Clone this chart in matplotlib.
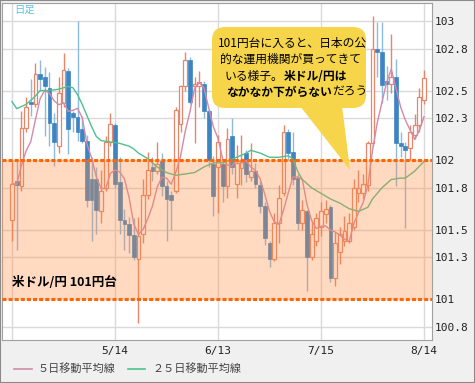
import matplotlib
matplotlib.use("Agg")
import matplotlib.pyplot as plt
from matplotlib.patches import FancyBboxPatch, Polygon, Rectangle
from matplotlib.lines import Line2D
from matplotlib.text import Annotation
import numpy as np
import pandas as pd

# daily USD/JPY candles, 2014-04-14 .. 2014-08-14
dates = pd.bdate_range("2014-04-14", "2014-08-14")
opens = [101.57, 101.85, 101.81, 102.23, 102.42, 102.40, 102.62, 102.60, 102.52, 102.27,
         102.10, 102.41, 102.64, 102.34, 102.31, 102.22, 102.14, 101.86, 101.86, 101.63,
         101.80, 102.13, 102.25, 101.84, 101.57, 101.54, 101.46, 101.29, 101.47, 101.75,
         101.95, 101.92, 101.99, 101.81, 101.75, 101.78, 102.26, 102.53, 102.72, 102.53,
         102.53, 102.55, 102.35, 101.97, 101.95, 101.97, 101.81, 102.17, 101.83, 101.94,
         102.05, 101.88, 101.92, 101.82, 101.67, 101.40, 101.29, 101.55, 101.76, 102.20,
         102.06, 101.87, 101.55, 101.63, 101.30, 101.42, 101.52, 101.61, 101.66, 101.15,
         101.34, 101.42, 101.42, 101.52, 101.76, 101.76, 101.82, 102.12, 102.80, 102.78,
         102.57, 102.55, 102.60, 102.12, 102.10, 102.09, 102.18, 102.25, 102.43]
highs = [102.00, 102.00, 102.35, 102.45, 102.58, 102.70, 102.72, 102.67, 102.63, 102.34,
         102.60, 102.77, 102.66, 102.35, 103.00, 102.32, 102.18, 102.02, 101.95, 101.93,
         102.17, 102.34, 102.27, 102.02, 101.65, 101.59, 101.58, 101.59, 101.86, 102.06,
         102.02, 102.13, 102.05, 101.85, 101.78, 102.38, 102.54, 102.78, 102.74, 102.60,
         102.64, 102.57, 102.37, 102.03, 102.18, 101.99, 102.23, 102.30, 102.11, 102.18,
         102.07, 102.12, 101.98, 101.85, 101.70, 101.42, 101.62, 101.82, 102.25, 102.22,
         102.20, 101.90, 101.71, 101.64, 101.57, 101.62, 101.70, 101.71, 101.68, 101.48,
         101.52, 101.60, 101.62, 101.86, 101.93, 101.90, 102.14, 103.04, 102.99, 102.99,
         102.68, 102.91, 102.73, 102.20, 102.13, 102.25, 102.33, 102.52, 102.65]
lows = [101.42, 101.35, 101.78, 102.20, 102.32, 102.38, 102.50, 102.17, 102.10, 101.96,
        102.05, 102.38, 102.04, 102.20, 102.14, 102.12, 101.66, 101.42, 101.47, 101.55,
        101.78, 102.10, 101.80, 101.47, 101.35, 101.33, 101.28, 100.83, 101.40, 101.72,
        101.85, 101.90, 101.74, 101.42, 101.50, 101.76, 102.20, 102.50, 102.40, 102.12,
        102.38, 102.30, 101.95, 101.60, 101.62, 101.70, 101.73, 101.90, 101.73, 101.82,
        101.84, 101.85, 101.80, 101.62, 101.39, 101.23, 101.27, 101.40, 101.74, 102.00,
        101.82, 101.50, 101.50, 101.06, 101.28, 101.38, 101.45, 101.55, 101.12, 101.09,
        101.25, 101.38, 101.40, 101.50, 101.70, 101.72, 101.78, 102.10, 102.60, 102.41,
        102.43, 102.48, 101.81, 102.02, 101.51, 102.00, 102.15, 102.20, 102.40]
closes = [101.83, 101.82, 102.23, 102.38, 102.40, 102.62, 102.58, 102.53, 102.27, 102.13,
          102.48, 102.65, 102.22, 102.31, 102.20, 102.14, 101.71, 101.71, 101.64, 101.78,
          102.13, 102.26, 101.83, 101.57, 101.54, 101.46, 101.30, 101.45, 101.75, 101.93,
          101.92, 101.97, 101.81, 101.72, 101.71, 102.36, 102.53, 102.72, 102.42, 102.55,
          102.56, 102.35, 102.00, 101.74, 102.13, 101.81, 102.15, 101.95, 101.98, 102.00,
          101.90, 101.92, 101.83, 101.67, 101.44, 101.29, 101.55, 101.73, 102.20, 102.05,
          101.86, 101.55, 101.64, 101.30, 101.47, 101.58, 101.63, 101.65, 101.15, 101.40,
          101.47, 101.49, 101.55, 101.80, 101.80, 101.83, 102.12, 102.80, 102.78, 102.54,
          102.55, 102.60, 102.12, 102.10, 102.07, 102.20, 102.25, 102.45, 102.59]

# 25-day moving average (candle index, value)
ma25_idx = [0, 1, 3, 5, 6, 8, 10, 12, 13, 14, 15, 16, 17, 18, 19, 21, 23, 25, 26, 27,
            29, 31, 33, 35, 37, 39, 41, 43, 45, 48, 50, 51, 53, 55, 57, 59, 60, 61, 62,
            64, 66, 68, 70, 72, 74, 76, 77, 79, 81, 83, 84, 86, 88]
ma25_val = [102.42, 102.37, 102.40, 102.46, 102.50, 102.50, 102.51, 102.53, 102.52, 102.47,
            102.40, 102.32, 102.24, 102.17, 102.14, 102.13, 102.12, 102.10, 102.08, 102.05,
            102.01, 101.95, 101.91, 101.89, 101.90, 101.91, 101.95, 101.98, 101.98, 102.02,
            102.05, 102.07, 102.05, 102.02, 102.02, 102.03, 102.01, 101.92, 101.86, 101.80,
            101.76, 101.72, 101.69, 101.65, 101.63, 101.66, 101.72, 101.80, 101.86, 101.87,
            101.87, 101.92, 101.99]

tick_dates = ["2014-04-14", "2014-05-14", "2014-06-13", "2014-07-15", "2014-08-14"]
tick_labels = ["", "5/14", "6/13", "7/15", "8/14"]
y_ticks = [100.8, 101, 101.3, 101.5, 101.8, 102, 102.3, 102.5, 102.8, 103]
band = (101, 102)

jp = ['Noto Sans CJK JP', 'DejaVu Sans']

fig = plt.figure(figsize=(4.75, 3.83), dpi=100, facecolor='#f0f0f0')
ax = fig.add_axes([2/475, 43/383, 430/475, 337/383])
ax.set_facecolor('white')

x = np.arange(len(dates))
o = np.array(opens); c = np.array(closes)
up = c >= o

# candles
ax.vlines(x[up], np.array(lows)[up], np.array(highs)[up], color='#e8866c', lw=1, zorder=2)
ax.vlines(x[~up], np.array(lows)[~up], np.array(highs)[~up], color='#8dbbe0', lw=1, zorder=2)
ax.bar(x[up], (c - o)[up], bottom=o[up], width=0.8, facecolor='white',
       edgecolor='#e8866c', linewidth=0.9, zorder=3)
ax.bar(x[~up], (o - c)[~up], bottom=c[~up], width=0.8, facecolor='#3d84c2',
       edgecolor='#3d84c2', linewidth=0.5, zorder=3)

# moving averages
ma5 = pd.Series(closes).rolling(5, min_periods=1).mean()
ax.plot(x, ma5, color='#d48aa8', lw=1, zorder=4)
ax.plot(ma25_idx, ma25_val, color='#4fc08d', lw=1, zorder=4)

# 101-yen band
ax.axhspan(band[0], band[1], facecolor='#ff8c40', alpha=0.33, lw=0, zorder=5)
for yv in band:
    ax.axhline(yv, color='#ff6600', lw=2.2, linestyle=(0, (1.3, 0.7)), zorder=6)

tick_pos = dates.get_indexer(pd.to_datetime(tick_dates))
ax.set_xticks(tick_pos)
ax.set_xticklabels(tick_labels)
ax.set_yticks(y_ticks)
ax.set_yticklabels([f"{v:g}" for v in y_ticks])
ax.yaxis.tick_right()
ax.tick_params(length=0, labelsize=8, labelcolor='#222222')
ax.tick_params(axis='y', pad=2)
ax.tick_params(axis='x', pad=4)
for lab in ax.get_xticklabels() + ax.get_yticklabels():
    lab.set_family('DejaVu Sans Mono')
ax.grid(color='#dadada', lw=1, zorder=0)
ax.set_axisbelow(True)
for s in ax.spines.values():
    s.set_color('#a0a0a0')
ax.set_xlim(-2.14, 89.7)
ax.set_ylim(100.705, 103.13)

T = fig.dpi_scale_trans
H = 3.83

def inch(px, py):
    return px / 100, H - py / 100

fig.text(*inch(14, 10), '日足', transform=T, va='center', color='#5bc3ec',
         fontsize=7.5, family=jp)
fig.text(*inch(12, 282), '米ドル/円 101円台', transform=T, va='center',
         fontsize=9, weight='bold', family=jp, zorder=7)

# callout
bx, by = inch(212, 108)
fig.add_artist(FancyBboxPatch((bx, by), 1.54, 0.81, transform=T,
                              boxstyle='round,pad=0,rounding_size=0.13',
                              fc='#f6d54b', ec='none', zorder=10))
fig.add_artist(Polygon([inch(300, 106), inch(342, 106), inch(350, 170)],
                       closed=True, transform=T, fc='#f6d54b', ec='none', zorder=10))

lines = [
    (218, 43, [('101円台に入ると、日本の公', 'normal')]),
    (220, 59.5, [('的な運用機関が買ってきて', 'normal')]),
    (225, 76.5, [('いる様子。', 'normal'), ('米ドル/円は', 'bold')]),
    (226, 92.5, [('なかなか下がらない', 'bold'), ('だろう', 'normal')]),
]
for lx, ly, parts in lines:
    prev = None
    for s, w in parts:
        if prev is None:
            prev = fig.text(*inch(lx, ly), s, transform=T, va='center', ha='left',
                            fontsize=8.5, weight=w, family=jp, zorder=11)
        else:
            a = Annotation(s, xy=(1, 0.5), xycoords=prev, va='center', ha='left',
                           fontsize=8.5, weight=w, family=jp, zorder=11)
            fig.add_artist(a)
            prev = a

# legend
for x0, x1, tx, col, lab in [(14, 32, 38, '#d48aa8', '５日移動平均線'),
                             (128, 145, 152, '#4fc08d', '２５日移動平均線')]:
    fig.add_artist(Line2D([x0 / 100, x1 / 100], [H - 3.69, H - 3.69], transform=T,
                          color=col, lw=1.2))
    fig.text(*inch(tx, 369), lab, transform=T, va='center', fontsize=8,
             color='#444444', family=jp)

fig.add_artist(Rectangle((0, 0), 1, 1, transform=fig.transFigure, fill=False,
                         ec='#8a8a8a', lw=1.5))

fig.savefig('out.png', dpi=100, facecolor=fig.get_facecolor())
